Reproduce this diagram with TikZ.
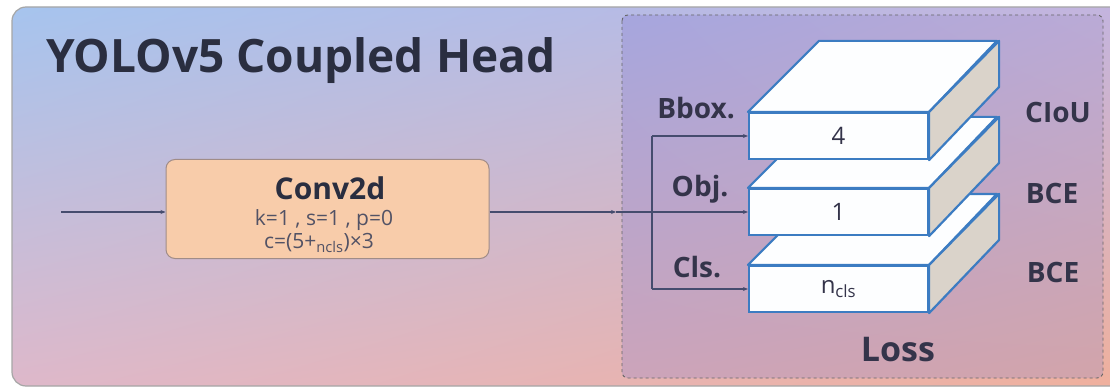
\documentclass[tikz,border=0pt]{standalone}
\usepackage{fontspec}
\setmainfont{Open Sans}
\usetikzlibrary{arrows.meta,shadings}

\definecolor{inkdark}{HTML}{2A2E40}
\definecolor{labeldark}{HTML}{34344A}
\definecolor{wire}{HTML}{454C6E}
\definecolor{slabedge}{HTML}{3C7CC2}
\definecolor{slabside}{HTML}{DAD3CA}
\definecolor{slabface}{HTML}{FDFEFF}
\definecolor{convfill}{HTML}{F8CCAA}
\definecolor{convedge}{HTML}{A08C88}
% panel gradient corners
\definecolor{panelUL}{RGB}{166,196,238}
\definecolor{panelUR}{RGB}{196,180,222}
\definecolor{panelLL}{RGB}{222,184,202}
\definecolor{panelLR}{RGB}{240,176,156}
% loss region gradient corners
\definecolor{lossUL}{RGB}{166,166,222}
\definecolor{lossUR}{RGB}{186,170,214}
\definecolor{lossLL}{RGB}{204,164,186}
\definecolor{lossLR}{RGB}{210,164,170}

\tikzset{
  wireline/.style={draw=wire, line width=1.1pt},
  arr/.style={wireline, -{Stealth[length=5pt,width=4pt]}},
  slabfront/.style={draw=slabedge, fill=slabface, line width=2.2pt,
    minimum width=179pt, minimum height=46pt, inner sep=0pt,
    font=\fontsize{24}{24}\selectfont, text=labeldark},
  slabtop/.style={draw=slabedge, fill=slabface, line width=2.2pt, line join=round},
  slabright/.style={draw=slabedge, fill=slabside, line width=2.2pt, line join=round},
  sidelabel/.style={font=\fontsize{28}{28}\selectfont\bfseries, text=labeldark, inner sep=0pt},
  convsmall/.style={anchor=base, inner sep=0pt, text=labeldark!85, font=\fontsize{21}{21}\selectfont},
}

% one layer of the loss stack: front face node plus its top and side faces
\newcommand{\lossslab}[3]{%
  \node[slabfront] (#1) at (838.5,#2) {#3};
  \path[slabtop] (#1.north west) -- ++(71,-71) -- ++(178,0) -- (#1.north east) -- cycle;
  \path[slabright] (#1.north east) -- ++(70,-71) -- ++(0,46) -- (#1.south east) -- cycle;
}

\begin{document}
\begin{tikzpicture}[x=1pt,y=-1pt]
\useasboundingbox (0,0) rectangle (1110,390);
\fill[white] (0,0) rectangle (1110,390);

% outer panel with its soft diagonal gradient
\begin{scope}
  \clip[rounded corners=14pt] (12,7) rectangle (1140,386);
  \shade[upper left=panelUL, upper right=panelUR,
         lower left=panelLL, lower right=panelLR]
    (12,7) rectangle (1140,386);
\end{scope}
\draw[rounded corners=14pt, draw=gray!70, line width=1.2pt] (12,7) rectangle (1140,386);

% dashed loss region
\begin{scope}
  \clip[rounded corners=6pt] (622,15) rectangle (1103,378);
  \shade[upper left=lossUL, upper right=lossUR,
         lower left=lossLL, lower right=lossLR]
    (622,15) rectangle (1103,378);
\end{scope}
\draw[rounded corners=6pt, draw=gray!80!black, dashed, line width=0.9pt] (622,15) rectangle (1103,378);

% title
\node[anchor=base west, inner sep=0pt, text=inkdark,
      font=\fontsize{46}{46}\selectfont\bfseries] (title) at (46,73) {YOLOv5 Coupled Head};

% convolution block
\node[draw=convedge, fill=convfill, rounded corners=9pt, line width=1pt,
      minimum width=323pt, minimum height=99pt, inner sep=0pt] (conv) at (327.5,209) {};
\node[anchor=base, inner sep=0pt, text=inkdark, font=\fontsize{30}{30}\selectfont\bfseries]
  (convname) at (330,200) {Conv2d};
\node[convsmall] (convksp) at (324,225) {k=1 , s=1 , p=0};
\node[convsmall] (convc) at (319,248) {c=(5+\textsubscript{ncls})×3};

% loss stack, bottom layer first so upper layers overlap it
\lossslab{cls}{289}{n\textsubscript{cls}}
\lossslab{obj}{212}{1}
\lossslab{bbox}{136}{4}

% connectors
\coordinate (src) at (61,212);
\coordinate (entry) at (616,212);
\coordinate (split) at (652,212);
\draw[arr] (src) -- (src -| conv.west);
\draw[arr] (conv.east |- entry) -- (entry);
\draw[arr] (entry) -- (obj.west);
\draw[wireline] (split |- bbox.west) -- (split |- cls.west);
\draw[arr] (split |- bbox.west) -- (bbox.west);
\draw[arr] (split |- cls.west) -- (cls.west);

% branch names and losses
\node[sidelabel] (lbbox) at (696,108) {Bbox.};
\node[sidelabel] (lobj) at (700,189) {Obj.};
\node[sidelabel] (lcls) at (697,267) {Cls.};
\node[sidelabel] (liou) at (1058,112) {CIoU};
\node[sidelabel] (lbce1) at (1052,193) {BCE};
\node[sidelabel] (lbce2) at (1053,272) {BCE};
\node[inner sep=0pt, text=labeldark, font=\fontsize{34}{34}\selectfont\bfseries]
  (loss) at (898,350) {Loss};
\end{tikzpicture}
\end{document}
